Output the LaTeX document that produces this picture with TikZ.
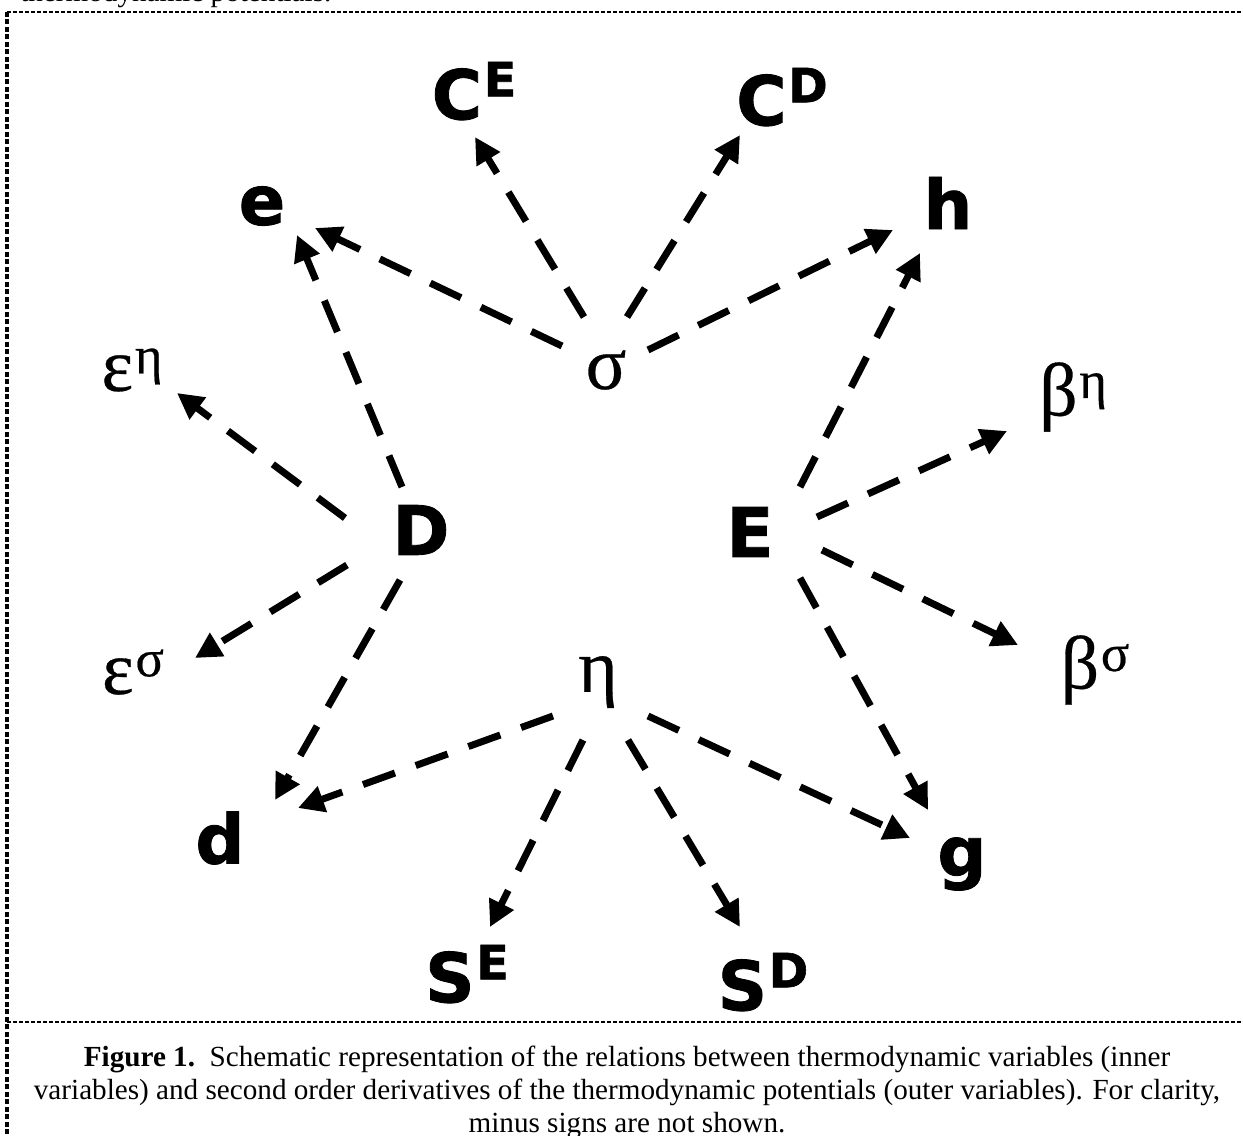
\documentclass[tikz,border=0pt]{standalone}
\usepackage{fontspec}
\setmainfont{Liberation Serif}
\newfontfamily\vfont{DejaVu Sans Bold}[FakeBold=1.2]
\newfontfamily\gfont{Liberation Serif}[FakeBold=0.4]
\usetikzlibrary{arrows.meta}
\newcommand\latsup[1]{\kern1pt\raisebox{13pt}{\fontsize{27pt}{27pt}\selectfont #1}}
\newcommand\grksup[1]{\kern1pt\raisebox{10pt}{\fontsize{30pt}{30pt}\selectfont #1}}
\begin{document}
\begin{tikzpicture}[x=0.02cm,y=-0.02cm,
  lat/.style={font=\vfont\fontsize{39pt}{39pt}\selectfont, inner sep=0pt},
  grk/.style={font=\gfont\fontsize{43pt}{43pt}\selectfont, inner sep=0pt},
  capt/.style={font=\fontsize{16.6pt}{19pt}\selectfont, inner sep=0pt},
  arr/.style={line width=0.14cm, dash pattern=on 0.68cm off 0.44cm,
    -{Triangle[length=0.52cm,width=0.52cm]}},
  hborder/.style={line width=0.04cm, dash pattern=on 0.08cm off 0.04cm},
  vborder/.style={line width=0.07cm, dash pattern=on 0.10cm off 0.05cm}]
\useasboundingbox (0,0) rectangle (1243,1135);
% frame
\draw[hborder] (7,12) -- (1243,12);
\draw[hborder] (7,1022) -- (1243,1022);
\draw[vborder] (7,12) -- (7,1135);
% clipped text above
\node[capt, anchor=base west] (toptext) at (20,2) {thermodynamic potentials.};
% inner variables
\node[grk] (s) at (606,370) {σ};
\node[grk] (eta) at (598,682) {η};
\node[lat] (D) at (421,530) {D};
\node[lat] (E) at (750,532) {E};
% outer variables
\node[lat] (CE) at (474,91) {C\latsup{E}};
\node[lat] (CD) at (782,97) {C\latsup{D}};
\node[lat] (e) at (262,206) {e};
\node[lat] (h) at (948,203) {h};
\node[grk] (epsEta) at (132,370) {ε\grksup{η}};
\node[grk] (betaEta) at (1073,397) {β\grksup{η}};
\node[grk] (epsSig) at (133,672) {ε\grksup{σ}};
\node[grk] (betaSig) at (1095,670) {β\grksup{σ}};
\node[lat] (d) at (220,838) {d};
\node[lat] (g) at (962,864) {g};
\node[lat] (SE) at (467,974) {S\latsup{E}};
\node[lat] (SD) at (763,982) {S\latsup{D}};
% arrows from sigma
\draw[arr] ([shift={(-44,-24)}]s.center) -- ([shift={(53,22)}]e.center);
\draw[arr] ([shift={(-22,-53)}]s.center) -- ([shift={(1,46)}]CE.center);
\draw[arr] ([shift={(21,-53)}]s.center) -- ([shift={(-42,38)}]CD.center);
\draw[arr] ([shift={(42,-20)}]s.center) -- ([shift={(-55,27)}]h.center);
% arrows from D
\draw[arr] ([shift={(-19,-43)}]D.center) -- ([shift={(35,29)}]e.center);
\draw[arr] ([shift={(-76,-12)}]D.center) -- ([shift={(45,23)}]epsEta.center);
\draw[arr] ([shift={(-74,35)}]D.center) -- ([shift={(62,-14)}]epsSig.center);
\draw[arr] ([shift={(-21,50)}]D.center) -- ([shift={(55,-38)}]d.center);
% arrows from E
\draw[arr] ([shift={(50,-45)}]E.center) -- ([shift={(-28,50)}]h.center);
\draw[arr] ([shift={(67,-15)}]E.center) -- ([shift={(-66,34)}]betaEta.center);
\draw[arr] ([shift={(72,18)}]E.center) -- ([shift={(-77,-25)}]betaSig.center);
\draw[arr] ([shift={(50,46)}]E.center) -- ([shift={(-34,-54)}]g.center);
% arrows from eta
\draw[arr] ([shift={(-45,34)}]eta.center) -- ([shift={(78,-30)}]d.center);
\draw[arr] ([shift={(-15,58)}]eta.center) -- ([shift={(23,-47)}]SE.center);
\draw[arr] ([shift={(30,58)}]eta.center) -- ([shift={(-23,-55)}]SD.center);
\draw[arr] ([shift={(50,34)}]eta.center) -- ([shift={(-52,-26)}]g.center);
% caption
\node[capt, anchor=base] (cap1) at (627,1066) {\textbf{Figure 1.}\ \ Schematic representation of the relations between thermodynamic variables (inner};
\node[capt, anchor=base] (cap2) at (627,1099) {variables) and second order derivatives of the thermodynamic potentials (outer variables). For clarity,};
\node[capt, anchor=base] (cap3) at (627,1132) {minus signs are not shown.};
\end{tikzpicture}
\end{document}
